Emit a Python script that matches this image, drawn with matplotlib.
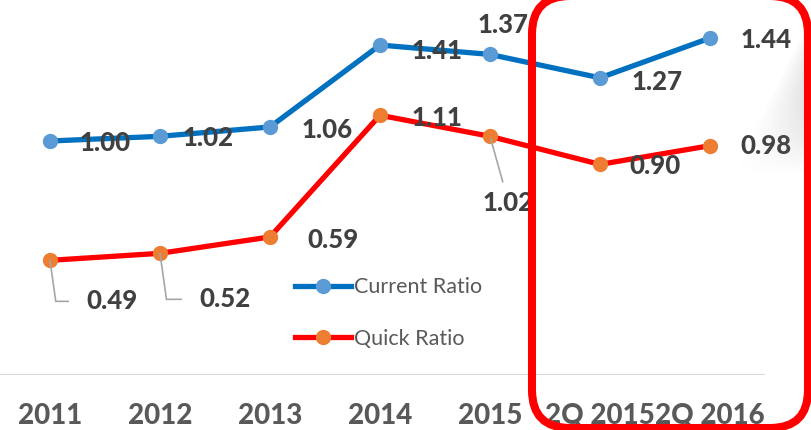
import numpy as np
import matplotlib
matplotlib.use("Agg")
import matplotlib.pyplot as plt
from matplotlib.patches import FancyBboxPatch, Polygon

plt.rcParams['font.family'] = ['Lato', 'DejaVu Sans']

periods = ["2011", "2012", "2013", "2014", "2015", "2Q 2015", "2Q 2016"]
current_ratio = [1.00, 1.02, 1.06, 1.41, 1.37, 1.27, 1.44]
quick_ratio = [0.49, 0.52, 0.59, 1.11, 1.02, 0.90, 0.98]

# label offsets (pixels) relative to each point
current_offsets = [(55, -2), (48, -2), (57, -3), (57, -6), (13, 29), (57, -4), (56, -2)]
quick_offsets = [(62, -41), (65, -46), (63, -3), (57, -3), (18, -67), (55, -2), (56, 0)]
quick_leaders = {0: "bent", 1: "bent", 4: "straight"}

W, H = 812, 430
fig = plt.figure(figsize=(W / 100, H / 100), dpi=100)
fig.patch.set_facecolor("white")

# main axes: value 0 at pixel row 375, 234 px per unit, 110 px per category
ax = fig.add_axes([0, 55 / H, 1, 375 / H])
ax.set_xlim(-50 / 110, (W - 50) / 110)
ax.set_ylim(0, 375 / 234)
ax.patch.set_alpha(0)
for s in ax.spines.values():
    s.set_visible(False)
ax.set_yticks([])
x = np.arange(len(periods))
ax.set_xticks(x)
ax.set_xticklabels(periods, fontsize=20, fontweight=900, color="#595959")
ax.tick_params(axis="x", length=0, pad=20)
ax.hlines(0, -0.5, len(periods) - 0.5, color="#D9D9D9", lw=1.5, zorder=1)

ax.plot(x, current_ratio, color="#0070C0", lw=3.8, marker="o", ms=10,
        mfc="#5B9BD5", mec="#5B9BD5", label="Current Ratio", zorder=3)
ax.plot(x, quick_ratio, color="#FF0000", lw=3.8, marker="o", ms=10,
        mfc="#ED7D31", mec="#ED7D31", label="Quick Ratio", zorder=3)

lab_kw = dict(textcoords="offset pixels", ha="center", va="center",
              fontsize=18.5, fontweight=900, color="#404040", zorder=4)
for i, v in enumerate(current_ratio):
    ax.annotate(f"{v:.2f}", (x[i], v), xytext=current_offsets[i], **lab_kw)
for i, v in enumerate(quick_ratio):
    kind = quick_leaders.get(i)
    if kind == "bent":
        arrow = dict(arrowstyle="-", color="#A6A6A6", lw=1.2, shrinkA=11, shrinkB=0,
                     relpos=(0, 0.5), connectionstyle="angle,angleA=0,angleB=98,rad=0")
    elif kind == "straight":
        arrow = dict(arrowstyle="-", color="#A6A6A6", lw=1.2, shrinkA=5, shrinkB=2,
                     relpos=(0.45, 1))
    else:
        arrow = None
    ax.annotate(f"{v:.2f}", (x[i], v), xytext=quick_offsets[i], arrowprops=arrow, **lab_kw)

leg = ax.legend(loc="center left", bbox_to_anchor=(295 / W, 1 - 313 / H),
                bbox_transform=fig.transFigure, frameon=False, fontsize=15.5,
                handlelength=2.6, handletextpad=0.12, labelspacing=1.45,
                borderpad=0, borderaxespad=0)
for t in leg.get_texts():
    t.set_color("#595959")

# decoration layer in pixel coordinates
deco = fig.add_axes([0, 0, 1, 1], zorder=5)
deco.set_xlim(0, W)
deco.set_ylim(H, 0)
deco.axis("off")
deco.patch.set_alpha(0)

# soft grey shade in the top-right corner
gx, gy = np.meshgrid(np.linspace(720, W, 120), np.linspace(10, 180, 200))
d = ((gx - 805) * 137 + (gy - 28) * 70) / np.hypot(137, 70)
fade = np.clip(d / 50, 0, 1) * np.clip((175 - gy) / 120, 0, 1) ** 1.1
rgba = np.zeros(gx.shape + (4,))
rgba[..., :3] = 0.55
rgba[..., 3] = fade * 0.6
img = deco.imshow(rgba, extent=(720, W, 180, 10), aspect="auto", zorder=1)
clip = Polygon([(812, 22), (812, 178), (730, 172), (802, 28)], closed=True,
               transform=deco.transData, fc="none", ec="none")
deco.add_patch(clip)
img.set_clip_path(clip)

box = FancyBboxPatch((532, -4), 276, 432, boxstyle="round,pad=0,rounding_size=38",
                     fc="none", ec="#FF0000", lw=5.8, zorder=2)
deco.add_patch(box)

fig.savefig("out.png", dpi=100)
